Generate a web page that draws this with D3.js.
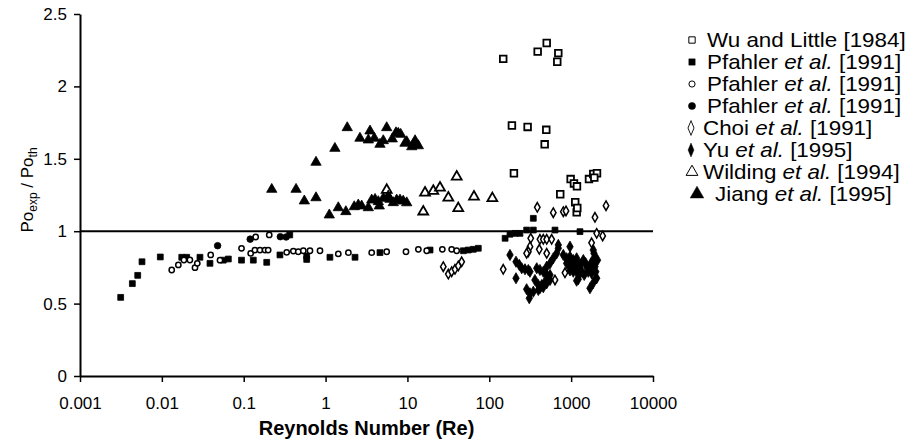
<!DOCTYPE html>
<html>
<head>
<meta charset="utf-8">
<script src="https://cdn.jsdelivr.net/npm/d3@7"></script>
<style>
  body { margin: 0; background: #fff; }
  text { font-family: "Liberation Sans", Arial, Helvetica, sans-serif; fill: #000; }
</style>
</head>
<body>
<script>
var w = 913;
var h = 447;

// axis ticks
var xTicks = [0.001, 0.01, 0.1, 1, 10, 100, 1000, 10000];
var xTickLabels = ["0.001", "0.01", "0.1", "1", "10", "100", "1000", "10000"];
var yTicks = [0, 0.5, 1, 1.5, 2, 2.5];
var yTickLabels = ["0", "0.5", "1", "1.5", "2", "2.5"];

// [Re, Po_exp/Po_th]
var wuLittle = [[148,2.19],[390,2.24],[503,2.30],[697,2.23],[677,2.17],[189,1.73],[294,1.72],
  [497,1.70],[475,1.60],[200,1.40],[986,1.36],[1083,1.33],[1178,1.31],[1652,1.36],[1863,1.395],
  [2069,1.40],[1918,1.37],[736,1.255],[1122,1.20],[1169,1.13],[1189,1.16]];

var pfahlerSquare = [[0.00314,0.543],[0.00436,0.638],[0.00507,0.695],[0.00572,0.789],[0.00957,0.822],
  [0.0175,0.82],[0.0201,0.82],[0.0292,0.82],[0.0387,0.778],[0.0563,0.80],[0.0649,0.808],[0.094,0.80],
  [0.131,0.80],[0.191,0.785],[0.277,0.836],[0.365,0.974],[0.588,0.829],[0.588,0.805],[1.13,0.82],
  [2.29,0.82],[4.62,0.852],[18.9,0.87],[48.2,0.865],[55.4,0.87],[63.8,0.875],[73.4,0.882],
  [156,0.951],[179,0.979],[206,0.985],[237,0.985],[286,1.008],[345,1.008],[345,1.089],[635,1.008],[1282,0.997]];

var pfahlerOpen = [[0.0132,0.732],[0.0159,0.767],[0.0186,0.801],[0.022,0.801],[0.0254,0.748],[0.0271,0.778],
  [0.0395,0.836],[0.0513,0.80],[0.094,0.882],[0.1216,0.847],[0.137,0.87],[0.158,0.87],[0.182,0.87],
  [0.199,0.87],[0.205,0.974],[0.14,0.96],[0.335,0.854],[0.404,0.863],[0.464,0.858],[0.535,0.865],
  [0.645,0.865],[0.855,0.865],[1.43,0.843],[1.90,0.852],[3.66,0.852],[5.58,0.858],[9.6,0.858],
  [13.6,0.875],[17.2,0.865],[26.7,0.875],[34.7,0.875],[40,0.865]];

var pfahlerFilled = [[0.048,0.90],[0.12,0.945],[0.28,0.962],[0.33,0.96]];

var choi = [[27.4,0.755],[31.6,0.704],[34.7,0.72],[38.1,0.737],[41.8,0.76],[46,0.789],[148,0.737],
  [321,0.951],[314,0.893],[300,0.858],[286,0.847],[416,0.944],[457,0.944],[503,0.944],[578,0.944],
  [408,0.875],[503,0.847],[1778,0.92],[635,0.663],[841,0.713],[386,1.165],[605,1.128],[802,1.135],
  [865,1.14],[1955,1.096],[2667,1.176],[2051,0.985],[2427,0.967]];

var yu = [[179,0.836],[212,0.789],[233,0.767],[249,0.744],[273,0.737],[300,0.732],[314,0.72],[212,0.675],
  [286,0.599],[314,0.571],[308,0.537],[345,0.582],[397,0.594],[437,0.628],[479,0.651],[361,0.663],
  [397,0.628],[416,0.606],[457,0.613],[503,0.64],[552,0.663],[380,0.744],[416,0.732],[457,0.72],
  [503,0.755],[552,0.778],[605,0.813],[665,0.847],[697,0.882],[697,0.905],[503,0.698],[552,0.698],
  [802,0.836],[881,0.813],[968,0.824],[1062,0.801],[1167,0.813],[881,0.778],[1014,0.767],[1112,0.755],
  [1222,0.778],[1282,0.744],[1167,0.72],[1062,0.72],[968,0.729],[968,0.893],[1222,0.668],[1167,0.658],
  [1698,0.606],[1409,0.801],[1546,0.755],[1618,0.72],[1863,0.87],[1900,0.847],[1955,0.824],[1863,0.801],
  [1900,0.778],[1955,0.755],[1832,0.732],[1778,0.709],[2010,0.675],[1445,0.698],[2051,0.675],
  [900,0.80],[1000,0.79],[1100,0.79],[1300,0.77],[950,0.76],[1050,0.745],[1150,0.74],[1250,0.70],
  [1350,0.72],[1500,0.78],[1700,0.74],[1750,0.78],[2000,0.72],[2100,0.80],[1850,0.64]];

var wilding = [[5.58,1.285],[15.6,1.135],[16.4,1.266],[20.7,1.278],[25.0,1.30],[31.6,1.231],
  [40.0,1.376],[41.8,1.158],[65,1.238],[109,1.227]];

var jiang = [[1.84,1.715],[1.30,1.572],[0.764,1.476],[3.49,1.692],[2.63,1.642],[3.33,1.630],[3.94,1.642],
  [5.58,1.715],[5.07,1.625],[4.62,1.600],[6.53,1.637],[7.25,1.680],[7.73,1.676],[8.27,1.669],[9.8,1.618],
  [9.33,1.607],[11.8,1.600],[12.4,1.625],[13.6,1.590],[11.3,1.583],
  [0.22,1.289],[0.436,1.289],[0.55,1.209],[0.764,1.231],[1.11,1.112],[1.43,1.162],[1.77,1.135],
  [2.24,1.169],[2.51,1.181],[2.76,1.174],[3.33,1.162],[3.66,1.215],[4.02,1.220],[4.41,1.204],
  [4.53,1.174],[5.07,1.227],[5.83,1.243],[6.12,1.220],[6.72,1.197],[7.39,1.215],[8.11,1.215],
  [8.89,1.208],[9.8,1.196]];

var refLine = 1;

var svg = d3.select("body")
            .append("svg")
            .attr("width", w)
            .attr("height", h);

var x = d3.scaleLog().domain([0.001, 10000]).range([80, 653]);
var y = d3.scaleLinear().domain([0, 2.5]).range([376, 14]);

// AXES =====================================

var xAxis = svg.append("g")
    .attr("transform", "translate(0," + y(0) + ")")
    .call(d3.axisBottom(x)
        .tickValues(xTicks)
        .tickFormat(function(d, i) { return xTickLabels[i]; })
        .tickSize(6).tickSizeOuter(0).tickPadding(15));

var yAxis = svg.append("g")
    .attr("transform", "translate(" + x(0.001) + ",0)")
    .call(d3.axisLeft(y)
        .tickValues(yTicks)
        .tickFormat(function(d, i) { return yTickLabels[i]; })
        .tickSize(6).tickSizeOuter(0).tickPadding(7));

svg.selectAll(".domain").attr("stroke", "#000").attr("stroke-width", 2);
svg.selectAll(".tick line").attr("stroke", "#000").attr("stroke-width", 1.5);
svg.selectAll(".tick text")
    .attr("font-size", "17px")
    .attr("font-family", "'Liberation Sans', Arial, sans-serif")
    .attr("fill", "#000");

// reference line at 1
svg.append("line")
    .attr("x1", x(0.001)).attr("x2", 653)
    .attr("y1", y(refLine)).attr("y2", y(refLine))
    .attr("stroke", "#000").attr("stroke-width", 2);

// titles
svg.append("text")
    .attr("x", (x(0.001) + x(10000)) / 2)
    .attr("y", 435)
    .attr("text-anchor", "middle")
    .attr("font-size", "20px")
    .attr("font-weight", "bold")
    .text("Reynolds Number (Re)");

var yTitle = svg.append("text")
    .attr("transform", "translate(33,190) rotate(-90)")
    .attr("text-anchor", "middle")
    .attr("font-size", "17px");
yTitle.append("tspan").text("Po");
yTitle.append("tspan").attr("font-size", "12px").attr("dy", 4).text("exp");
yTitle.append("tspan").attr("dy", -4).text(" / Po");
yTitle.append("tspan").attr("font-size", "12px").attr("dy", 4).text("th");

// MARKS =====================================

var series = [
    { data: wuLittle,      shape: d3.symbolSquare,   size: 44, fill: "#fff", stroke: 1.8 },
    { data: pfahlerSquare, shape: d3.symbolSquare,   size: 34, fill: "#000", stroke: 0.8 },
    { data: pfahlerOpen,   shape: d3.symbolCircle,   size: 22, fill: "#fff", stroke: 1.5 },
    { data: pfahlerFilled, shape: d3.symbolCircle,   size: 34, fill: "#000", stroke: 0.8 },
    { data: choi,          shape: d3.symbolDiamond,  size: 26, fill: "#fff", stroke: 1.5 },
    { data: yu,            shape: d3.symbolDiamond,  size: 36, fill: "#000", stroke: 0.8 },
    { data: wilding,       shape: d3.symbolTriangle, size: 42, fill: "#fff", stroke: 1.8 },
    { data: jiang,         shape: d3.symbolTriangle, size: 46, fill: "#000", stroke: 0.8 }
];

series.forEach(function(s) {
    svg.append("g").selectAll("path")
        .data(s.data)
        .enter().append("path")
            .attr("d", d3.symbol().type(s.shape).size(s.size))
            .attr("transform", function(d) {
                return "translate(" + x(d[0]) + "," + y(d[1]) + ")";
            })
            .attr("fill", s.fill)
            .attr("stroke", "#000")
            .attr("stroke-width", s.stroke);
});

// LEGEND =====================================

var legendNames = [
    ["Wu and Little [1984]"],
    ["Pfahler ", "et al.", " [1991]"],
    ["Pfahler ", "et al.", " [1991]"],
    ["Pfahler ", "et al.", " [1991]"],
    ["Choi ", "et al.", " [1991]"],
    ["Yu ", "et al.", " [1995]"],
    ["Wilding ", "et al.", " [1994]"],
    ["Jiang ", "et al.", " [1995]"]
];
var legendMarks = [
    { shape: d3.symbolSquare,   size: 40, fill: "#fff", stroke: 1,   dx: 692, sx: 1, sy: 1 },
    { shape: d3.symbolSquare,   size: 40, fill: "#000", stroke: 0.5, dx: 692, sx: 1, sy: 1 },
    { shape: d3.symbolCircle,   size: 30, fill: "#fff", stroke: 1,   dx: 692, sx: 1, sy: 1 },
    { shape: d3.symbolCircle,   size: 40, fill: "#000", stroke: 0.5, dx: 692, sx: 1, sy: 1 },
    { shape: d3.symbolDiamond,  size: 50, fill: "#fff", stroke: 1,   dx: 691, sx: 0.8, sy: 1.1 },
    { shape: d3.symbolDiamond,  size: 46, fill: "#000", stroke: 0.5, dx: 691, sx: 0.8, sy: 1.1 },
    { shape: d3.symbolTriangle, size: 60, fill: "#fff", stroke: 1,   dx: 692, sx: 1, sy: 1 },
    { shape: d3.symbolTriangle, size: 80, fill: "#000", stroke: 0.5, dx: 697, sx: 1, sy: 1 }
];
var legendTextX = [707, 707, 707, 707, 703, 703, 703, 715];

var legend = svg.append("g");
legendNames.forEach(function(parts, i) {
    var cy = 40 + i * 22;
    var m = legendMarks[i];
    legend.append("path")
        .attr("d", d3.symbol().type(m.shape).size(m.size))
        .attr("transform", "translate(" + m.dx + "," + cy + ") scale(" + m.sx + "," + m.sy + ")")
        .attr("fill", m.fill)
        .attr("stroke", "#000")
        .attr("stroke-width", m.stroke);
    var t = legend.append("text")
        .attr("transform", "translate(" + legendTextX[i] + "," + (cy + 7) + ") scale(1.12,1)")
        .attr("font-size", "20px");
    parts.forEach(function(p, j) {
        t.append("tspan")
            .attr("font-style", j === 1 ? "italic" : "normal")
            .text(p);
    });
});
</script>
</body>
</html>
